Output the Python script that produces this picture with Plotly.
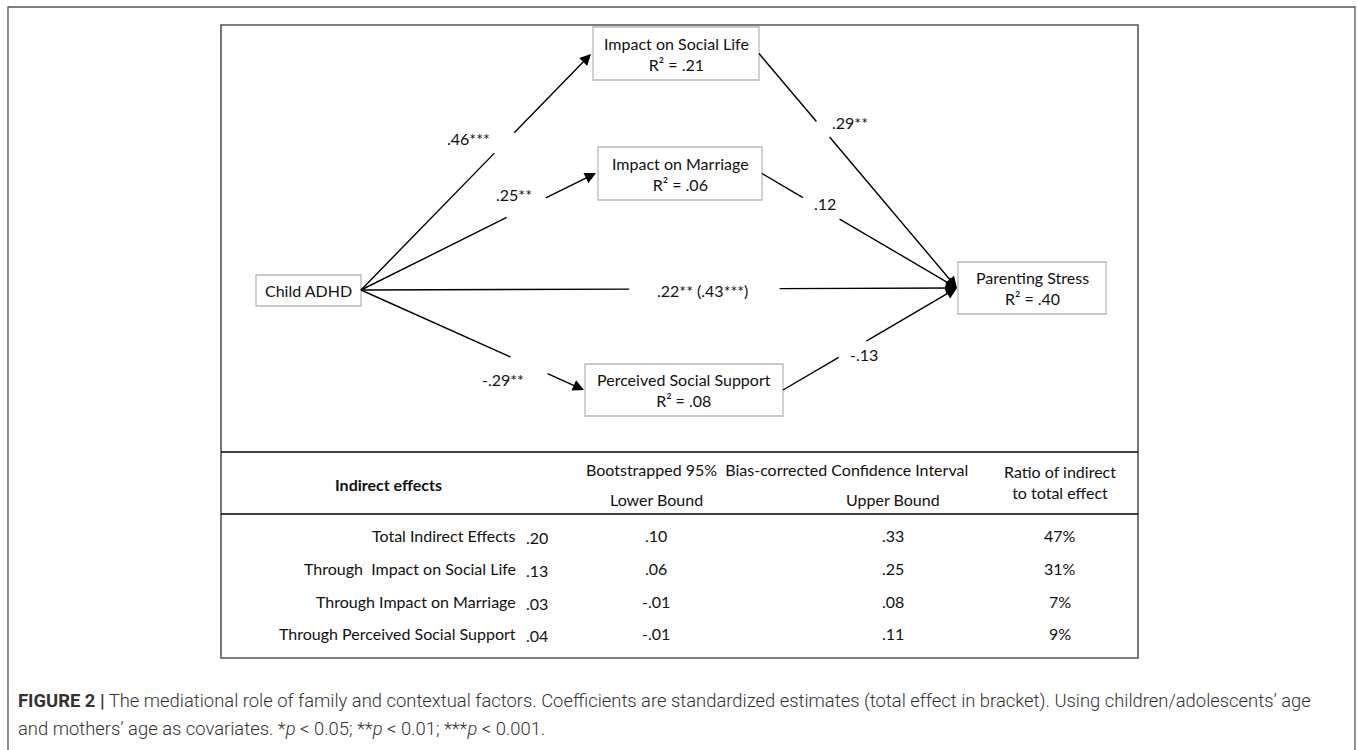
import plotly.graph_objects as go

# ---------------- data ----------------
node_names = ["Child ADHD", "Impact on Social Life", "Impact on Marriage",
              "Perceived Social Support", "Parenting Stress"]
node_r2 = ["", ".21", ".06", ".08", ".40"]

a_paths = [".46***", ".25**", "-.29**"]          # Child ADHD -> mediators
b_paths = [".29**", ".12", "-.13"]               # mediators -> Parenting Stress
direct_path = ".22** (.43***)"

col_header = "Indirect effects"
ci_header = "Bootstrapped 95%  Bias-corrected Confidence Interval"
lower_header = "Lower Bound"
upper_header = "Upper Bound"
ratio_header = ["Ratio of indirect", "to total effect"]

row_labels = ["Total Indirect Effects", "Through  Impact on Social Life",
              "Through Impact on Marriage", "Through Perceived Social Support"]
effects = [".20", ".13", ".03", ".04"]
lower_bounds = [".10", ".06", "-.01", "-.01"]
upper_bounds = [".33", ".25", ".08", ".11"]
ratios = ["47%", "31%", "7%", "9%"]

caption_bold = "FIGURE 2 |"
caption_text = (" The mediational role of family and contextual factors. Coefficients are standardized "
                "estimates (total effect in bracket). Using children/adolescents’ age")
caption_text2 = "and mothers’ age as covariates. *<i>p</i> < 0.05; **<i>p</i> < 0.01; ***<i>p</i> < 0.001."

# ---------------- layout geometry ----------------
W, H = 1357, 750
FONT = "Lato, 'Open Sans', sans-serif"
CAPFONT = "Roboto, sans-serif"

# boxes: x0, y0, x1, y1 (pixels, y downward)
boxes = [
    (256, 275, 361, 306),
    (593, 27, 759, 80),
    (598, 147, 762, 200),
    (585, 364, 783, 416),
    (958, 262, 1106, 314),
]

fig = go.Figure()
shapes = []
annots = []

# outer frame & inner frame
shapes.append(dict(type="rect", x0=8, y0=7, x1=1355, y1=760,
                   line=dict(color="#555555", width=1.3)))
shapes.append(dict(type="rect", x0=221, y0=25, x1=1138, y1=658,
                   line=dict(color="#555555", width=1.6)))

# node boxes and labels
for (x0, y0, x1, y1), name, r2 in zip(boxes, node_names, node_r2):
    shapes.append(dict(type="rect", x0=x0, y0=y0, x1=x1, y1=y1,
                       line=dict(color="#b8b8b8", width=1.3), fillcolor="white"))
    cx = (x0 + x1) / 2
    txt = name + "<br>R² = " + r2 if r2 else name
    annots.append(dict(x=cx, y=(y0 + y1) / 2, text=txt, showarrow=False,
                       font=dict(family=FONT, size=16, color="#111111"),
                       xanchor="center", yanchor="middle", align="center"))

def mid_right(b):
    return (b[2], (b[1] + b[3]) / 2)

conv = (957, 288)
src = (361, 290)

# paths: start, end, gap (t0, t1), label position, label text
paths = [
    (src, (591, 54), (0.58, 0.66), (468, 138), a_paths[0]),
    (src, (596, 173), (0.62, 0.78), (514, 194), a_paths[1]),
    (src, (584, 390), (0.67, 0.83), (503, 379), a_paths[2]),
    (mid_right(boxes[1]), conv, (0.29, 0.35), (850, 122), b_paths[0]),
    (mid_right(boxes[2]), conv, (0.21, 0.39), (825, 203), b_paths[1]),
    (mid_right(boxes[3]), conv, (0.32, 0.47), (864, 354), b_paths[2]),
    (src, conv, (0.45, 0.70), (702, 290), direct_path),
]

for (s, e, (t0, t1), (lx, ly), lab) in paths:
    gx0 = s[0] + (e[0] - s[0]) * t0
    gy0 = s[1] + (e[1] - s[1]) * t0
    gx1 = s[0] + (e[0] - s[0]) * t1
    gy1 = s[1] + (e[1] - s[1]) * t1
    shapes.append(dict(type="line", x0=s[0], y0=s[1], x1=gx0, y1=gy0,
                       line=dict(color="black", width=1.4)))
    annots.append(dict(x=e[0], y=e[1], ax=gx1, ay=gy1, xref="x", yref="y",
                       axref="x", ayref="y", text="", showarrow=True,
                       arrowhead=2, arrowsize=1.6, arrowwidth=1.4,
                       arrowcolor="black", standoff=0))
    annots.append(dict(x=lx, y=ly, text=lab, showarrow=False,
                       font=dict(family=FONT, size=16, color="#111111"),
                       xanchor="center", yanchor="middle"))

# ---------------- table ----------------
shapes.append(dict(type="line", x0=221, y0=452, x1=1138, y1=452,
                   line=dict(color="black", width=1.6)))
shapes.append(dict(type="line", x0=221, y0=514, x1=1138, y1=514,
                   line=dict(color="black", width=1.6)))

LOW_X, UP_X, RAT_X = 656, 893, 1060
TF = dict(family=FONT, size=16, color="#111111")
annots.append(dict(x=388, y=484, text="<b>" + col_header + "</b>", showarrow=False,
                   font=TF, xanchor="center", yanchor="middle"))
annots.append(dict(x=777, y=469, text=ci_header, showarrow=False,
                   font=TF, xanchor="center", yanchor="middle"))
annots.append(dict(x=LOW_X, y=499, text=lower_header, showarrow=False,
                   font=TF, xanchor="center", yanchor="middle"))
annots.append(dict(x=UP_X, y=499, text=upper_header, showarrow=False,
                   font=TF, xanchor="center", yanchor="middle"))
annots.append(dict(x=RAT_X, y=482, text=ratio_header[0] + "<br>" + ratio_header[1],
                   showarrow=False, font=TF, xanchor="center", yanchor="middle"))

row_y = [535, 568, 601, 633]
for ry, lab, ef, lo, up, ra in zip(row_y, row_labels, effects, lower_bounds, upper_bounds, ratios):
    annots.append(dict(x=518, y=ry, text=lab, showarrow=False, font=TF,
                       xanchor="right", yanchor="middle"))
    annots.append(dict(x=537, y=ry + 2, text=ef, showarrow=False, font=TF,
                       xanchor="center", yanchor="middle"))
    annots.append(dict(x=LOW_X, y=ry, text=lo, showarrow=False, font=TF,
                       xanchor="center", yanchor="middle"))
    annots.append(dict(x=UP_X, y=ry, text=up, showarrow=False, font=TF,
                       xanchor="center", yanchor="middle"))
    annots.append(dict(x=RAT_X, y=ry, text=ra, showarrow=False, font=TF,
                       xanchor="center", yanchor="middle"))

# ---------------- caption ----------------
CF = dict(family=CAPFONT, size=18.4, color="#333333", weight=300)
annots.append(dict(x=16, y=701, text="<b>" + caption_bold + "</b>" + caption_text,
                   showarrow=False, font=CF, xanchor="left", yanchor="middle"))
annots.append(dict(x=16, y=728, text=caption_text2,
                   showarrow=False, font=CF, xanchor="left", yanchor="middle"))

fig.update_layout(
    width=W, height=H,
    margin=dict(l=0, r=0, t=0, b=0),
    paper_bgcolor="white", plot_bgcolor="white",
    xaxis=dict(range=[0, W], visible=False, fixedrange=True),
    yaxis=dict(range=[H, 0], visible=False, fixedrange=True),
    shapes=shapes, annotations=annots, showlegend=False,
)
fig.write_html("out.html", config={"displayModeBar": False},
               post_script="document.body.style.margin='0';document.body.style.overflow='hidden';")
